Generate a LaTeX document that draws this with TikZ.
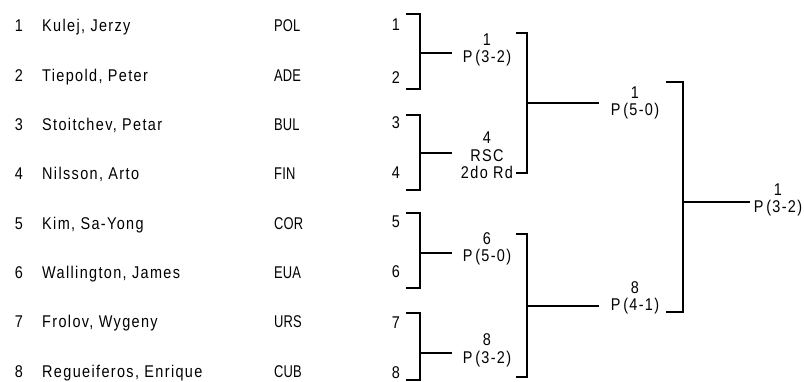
\documentclass[tikz,border=0pt]{standalone}
\usepackage{fontspec}
\setmainfont{Liberation Sans}[FakeStretch=0.85,LetterSpace=8]
\newfontfamily\codefont{Liberation Sans}[FakeStretch=0.76,LetterSpace=1]
\begin{document}
\begin{tikzpicture}[x=1pt,y=-1pt,
  txt/.style={inner sep=0pt,font=\fontsize{17}{17.5}\selectfont},
  code/.style={inner sep=0pt,font=\fontsize{17}{17.5}\codefont},
  lbl/.style={txt,align=center,anchor=base},
  br/.style={line width=1.8pt,line cap=butt,line join=miter}]
\useasboundingbox (0,0) rectangle (804,382);
% entrant list
\foreach \i/\n/\c [count=\k from 0] in {1/{Kulej, Jerzy}/POL,2/{Tiepold, Peter}/ADE,3/{Stoitchev, Petar}/BUL,4/{Nilsson, Arto}/FIN,5/{Kim, Sa-Yong}/COR,6/{Wallington, James}/EUA,7/{Frolov, Wygeny}/URS,8/{Regueiferos, Enrique}/CUB}{
  \pgfmathsetmacro{\yy}{32+49.3*\k}
  \node[txt,anchor=base east] (n\i) at (23,\yy) {\i};
  \node[txt,anchor=base west] (p\i) at (42,\yy) {\n};
  \node[code,anchor=base west] (c\i) at (274,\yy) {\c};
}
% bracket numbers
\foreach \i/\yy in {1/31,2/84,3/129,4/179,5/228,6/278,7/329,8/378}{
  \node[txt,anchor=base east] (s\i) at (400,\yy) {\i};
}
% first round labels (anchor = baseline of last line)
\node[lbl] (m1) at (487,63) {1\\P\,(3-2)};
\node[lbl] (m2) at (487,179) {4\\RSC\\2do Rd};
\node[lbl] (m3) at (487,262) {6\\P\,(5-0)};
\node[lbl] (m4) at (487,363) {8\\P\,(3-2)};
% second round labels
\node[lbl] (r1) at (635,116) {1\\P\,(5-0)};
\node[lbl] (r2) at (635,311) {8\\P\,(4-1)};
% final
\node[lbl] (f) at (778,213) {1\\P\,(3-2)};
% first round brackets
\foreach \t/\b/\m in {14/89/53,115/190/153,213/288/253,313/380/353}{
  \draw[br] (406,\t) -- (420,\t) -- (420,\b) -- (406,\b);
  \draw[br] (420,\m) -- (452,\m);
}
% second round brackets
\draw[br] (516,33) -- (527,33) -- (527,173) -- (516,173);
\draw[br] (527,103) -- (599,103);
\draw[br] (516,234) -- (527,234) -- (527,377) -- (516,377);
\draw[br] (527,306) -- (599,306);
% final bracket
\draw[br] (666,82) -- (683,82) -- (683,312) -- (666,312);
\draw[br] (683,202) -- (750,202);
\end{tikzpicture}
\end{document}
